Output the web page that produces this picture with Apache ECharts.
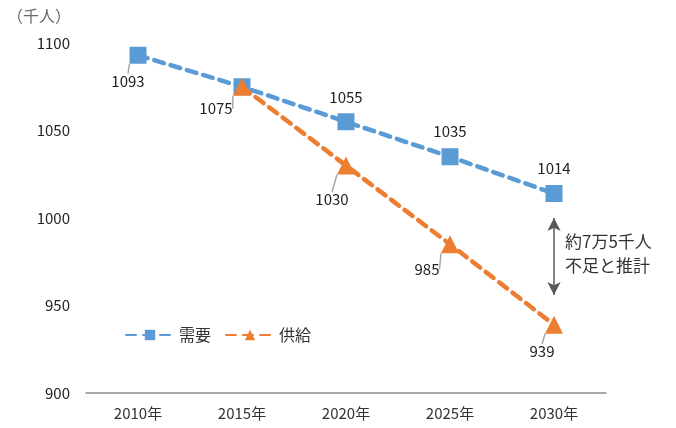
<!DOCTYPE html>
<html><head><meta charset="utf-8">
<script src="https://cdn.jsdelivr.net/npm/echarts@6/dist/echarts.min.js"></script>
<style>html,body{margin:0;padding:0;background:#fff}#c{width:676px;height:428px}</style>
</head><body><div id="c"></div>
<script>
const categories = ['2010年','2015年','2020年','2025年','2030年'];
const demand = [1093, 1075, 1055, 1035, 1014];
const supply = [null, 1075, 1030, 985, 939];
const yTicks = [900, 950, 1000, 1050, 1100];
const unitLabel = '（千人）';
const noteText = '約7万5千人\n不足と推計';
const gapTop = 1000, gapBottom = 956;

// label offsets (dx, dy) from point centre; leader flag
const demandLabelOff = [[-10, 26, true], null, [0, -24, false], [0, -25, false], [0, -25, false]];
const supplyLabelOff = [null, [-26, 22, true], [-14, 34, true], [-23, 25, true], [-12, 27, true]];

const FONT = '"Noto Sans CJK JP", "Noto Sans", sans-serif';
const chart = echarts.init(document.getElementById('c'));

function mkLayout(offs){
  return function(p){
    const o = offs[p.dataIndex];
    if(!o) return {};
    return {dx: o[0], dy: o[1]};
  };
}
function mkData(vals, offs){
  return vals.map((v, i) => ({
    value: v,
    label: {show: !!offs[i]},
    labelLine: {show: !!(offs[i] && offs[i][2])}
  }));
}

chart.setOption({
  animation: false,
  textStyle: {fontFamily: FONT},
  grid: {left: 86, right: 70, top: 43, bottom: 35},
  title: {text: unitLabel, left: 2, top: 3, textStyle: {fontSize: 16, fontWeight: 'normal', color: '#6b6b6b', fontFamily: FONT}},
  legend: {
    left: 120, top: 322, itemWidth: 48, itemHeight: 13, itemGap: 14,
    textStyle: {fontSize: 16, color: '#333', fontFamily: FONT},
    data: ['需要','供給']
  },
  xAxis: {
    type: 'category', data: categories, boundaryGap: true,
    axisLine: {lineStyle: {color: '#8c8c8c', width: 1.5}},
    axisTick: {show: false},
    axisLabel: {fontSize: 15, color: '#333', margin: 13}
  },
  yAxis: {
    type: 'value', min: yTicks[0], max: yTicks[yTicks.length-1], interval: 50,
    axisLine: {show: false}, axisTick: {show: false}, splitLine: {show: false},
    axisLabel: {fontSize: 15, color: '#222', margin: 16, formatter: v => String(v)}
  },
  series: [
    {
      name: '需要', type: 'line', data: mkData(demand, demandLabelOff),
      symbol: 'rect', symbolSize: 17,
      itemStyle: {color: '#5B9BD5'},
      lineStyle: {color: '#5B9BD5', width: 4.5, type: [10, 7], cap: 'round'},
      label: {show: true, position: 'inside', fontSize: 15, color: '#222'},
      labelLine: {lineStyle: {color: '#a6a6a6', width: 1.5}},
      labelLayout: mkLayout(demandLabelOff),
      markLine: {
        silent: true, symbol: ['arrow','arrow'], symbolSize: [10, 13],
        lineStyle: {color: '#595959', width: 1.5, type: 'solid'},
        label: {show: false},
        data: [[{coord: [categories[4], gapTop]}, {coord: [categories[4], gapBottom]}]]
      },
      z: 3
    },
    {
      name: '供給', type: 'line', data: mkData(supply, supplyLabelOff),
      symbol: 'triangle', symbolSize: 18,
      itemStyle: {color: '#ED7D31'},
      lineStyle: {color: '#ED7D31', width: 4.5, type: [10, 7], cap: 'round'},
      label: {show: true, position: 'inside', fontSize: 15, color: '#222'},
      labelLine: {lineStyle: {color: '#a6a6a6', width: 1.5}},
      labelLayout: mkLayout(supplyLabelOff),
      z: 4
    }
  ],
  graphic: [{
    type: 'text', left: 565, top: 230,
    style: {text: noteText, fontSize: 17, lineHeight: 24, fill: '#333', fontFamily: FONT}
  }]
});
</script></body></html>
